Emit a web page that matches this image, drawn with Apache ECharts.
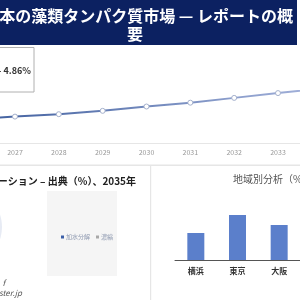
<!DOCTYPE html>
<html><head><meta charset="utf-8">
<script src="https://cdn.jsdelivr.net/npm/echarts@6/dist/echarts.min.js"></script>
<style>html,body{margin:0;padding:0;background:#fff}#c{width:300px;height:300px}</style>
</head><body><div id="c"></div>
<script>
var years = [2026, 2027, 2028, 2029, 2030, 2031, 2032, 2033, 2034];
var marketValues = [1.49, 1.55, 1.60, 1.67, 1.76, 1.84, 1.94, 2.04, 2.14];
var yearTicks = [2027, 2028, 2029, 2030, 2031, 2032, 2033];
var regions = ['横浜', '東京', '大阪'];
var regionShares = [27, 45, 35];
var segments = ['加水分解', '濃縮'];
var segmentShares = [62, 38];
var titleLine1 = '日本の藻類タンパク質市場 — レポートの概';
var titleLine2 = '要';
var cagrText = '- 4.86%';
var pieTitle = 'セグメンテーション – 出典（%）、2035年';
var barTitle = '地域別分析（%）';

var font = '"Noto Sans CJK JP", "Noto Sans", sans-serif';
var segColors = ['#3b5ea8', '#a8a8a8'];
var chart = echarts.init(document.getElementById('c'), null, {renderer: 'canvas'});
chart.setOption({
  animation: false,
  textStyle: {fontFamily: font},
  grid: [
    {left: 0, right: 0, top: 47, bottom: 157},
    {left: 175, right: 0, top: 200, bottom: 40}
  ],
  xAxis: [
    {type: 'value', gridIndex: 0, min: 2026.658, max: 2033.502,
     axisLine: {show: true, lineStyle: {color: '#e6e6e6', width: 1}},
     axisTick: {show: false}, splitLine: {show: false},
     axisLabel: {customValues: yearTicks, fontSize: 7, color: '#999', margin: 6,
       formatter: function (v) { return String(Math.round(v)); }}},
    {type: 'category', gridIndex: 1, data: regions,
     axisLine: {show: true, lineStyle: {color: '#555', width: 1}},
     axisTick: {show: false},
     axisLabel: {fontSize: 8, fontWeight: 'bold', color: '#333', margin: 7}}
  ],
  yAxis: [
    {type: 'value', gridIndex: 0, min: 1, max: 3, show: false},
    {type: 'value', gridIndex: 1, min: 0, max: 60, show: false}
  ],
  legend: {
    left: 56, top: 229, itemWidth: 3, itemHeight: 3, itemGap: 6, icon: 'rect',
    data: segments.map(function (n, i) { return {name: n, itemStyle: {color: segColors[i], opacity: 1}}; }),
    textStyle: {fontSize: 6, color: '#8e99b0', padding: [0, 0, 0, -3]}
  },
  series: [
    {type: 'line', xAxisIndex: 0, yAxisIndex: 0, clip: true,
     data: years.map(function (y, i) { return [y, marketValues[i]]; }),
     symbol: 'circle', symbolSize: 5,
     itemStyle: {color: '#fff', borderColor: '#a4b0cc', borderWidth: 1},
     lineStyle: {width: 2, color: new echarts.graphic.LinearGradient(0, 0, 1, 0, [
       {offset: 0, color: '#3c5c9c'}, {offset: 1, color: '#a6b4dc'}])}},
    {type: 'bar', xAxisIndex: 1, yAxisIndex: 1, data: regionShares, barWidth: 17,
     itemStyle: {color: '#5b7fcb'}},
    {type: 'pie', center: [-38, 227], radius: 40, label: {show: false},
     data: segments.map(function (n, i) { return {name: n, value: segmentShares[i]}; }),
     color: segColors, itemStyle: {opacity: 0.12}, startAngle: 120}
  ],
  graphic: [
    {type: 'rect', shape: {x: -30, y: 0, width: 327, height: 45}, style: {fill: '#0c2161'}, z: 10},
    {type: 'text', x: 293, y: 16, z: 11, style: {text: titleLine1, fill: '#fff', font: 'bold 16px ' + font, textAlign: 'right', textVerticalAlign: 'middle'}},
    {type: 'text', x: 135, y: 34, z: 11, style: {text: titleLine2, fill: '#fff', font: 'bold 16px ' + font, textAlign: 'center', textVerticalAlign: 'middle'}},
    {type: 'rect', shape: {x: -5, y: 47.5, width: 39, height: 44.5}, style: {fill: '#fff', stroke: '#b0b0b0', lineWidth: 1}, z: 10},
    {type: 'text', x: 31, y: 71, z: 11, style: {text: cagrText, fill: '#333', font: 'bold 9px ' + font, textAlign: 'right', textVerticalAlign: 'middle'}},
    {type: 'rect', shape: {x: 0, y: 164.5, width: 300, height: 1.5}, style: {fill: '#e6e6e6'}},
    {type: 'rect', shape: {x: 150, y: 165, width: 1.2, height: 135}, style: {fill: '#e6e6e6'}},
    {type: 'text', x: 136, y: 181, style: {text: pieTitle, fill: '#222', font: 'bold 10px ' + font, textAlign: 'right', textVerticalAlign: 'middle'}},
    {type: 'rect', shape: {x: 47, y: 191, width: 70, height: 85}, style: {fill: '#f5f5f5'}, z: -1},
    {type: 'text', x: 5, y: 283, style: {text: 'f', fill: '#555', font: 'italic 8px ' + font, textAlign: 'right', textVerticalAlign: 'middle'}},
    {type: 'text', x: 22, y: 293, style: {text: 'nester.jp', fill: '#555', font: 'italic 8px ' + font, textAlign: 'right', textVerticalAlign: 'middle'}},
    {type: 'text', x: 233, y: 179, style: {text: barTitle, fill: '#555', font: '10px ' + font, textAlign: 'left', textVerticalAlign: 'middle'}}
  ]
});
</script></body></html>
